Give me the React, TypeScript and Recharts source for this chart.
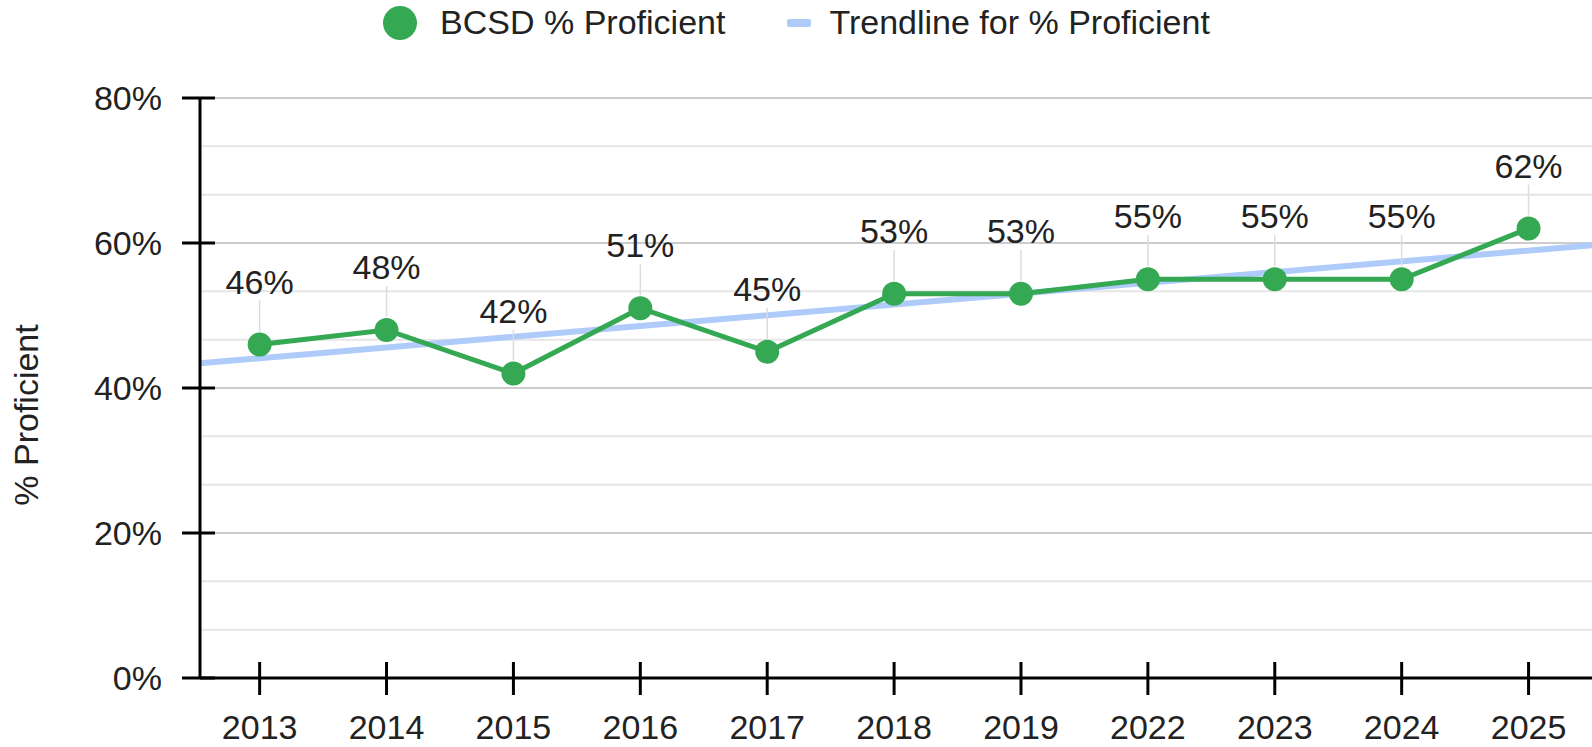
import React from 'react';
import { LineChart, Line, XAxis, YAxis, ReferenceLine, Legend, LabelList } from 'recharts';

const years = ['2013', '2014', '2015', '2016', '2017', '2018', '2019', '2022', '2023', '2024', '2025'];
const proficient = [46, 48, 42, 51, 45, 53, 53, 55, 55, 55, 62];
// trendline read at the left and right plot edges
const trendX = [-0.47, 10.5];
const trendY = [43.4, 59.7];
const yTicks = [0, 20, 40, 60, 80];
const minorGrid = [1, 2, 4, 5, 7, 8, 10, 11].map((k) => (k * 20) / 3);
const majorGrid = [20, 40, 60, 80];

const GREEN = '#34a853';
const TREND = '#aecbfa';
const FONT = '"Liberation Sans", Arial, sans-serif';
const FS = 34;

const data = years.map((year, i) => ({ x: i, year, value: proficient[i] }));
const trendData = trendX.map((x, i) => ({ x, trend: trendY[i] }));

const YTick = (props: any) => {
  const { x, y, payload } = props;
  return (
    <g>
      <line x1={x - 18} x2={x + 15} y1={y} y2={y} stroke="#000" strokeWidth={3} />
      <text x={x - 38} y={y} dy="0.36em" textAnchor="end" fontSize={FS} fontFamily={FONT} fill="#222">
        {payload.value}%
      </text>
    </g>
  );
};

const XTick = (props: any) => {
  const { x, y, payload } = props;
  return (
    <g>
      <line x1={x} x2={x} y1={y - 16} y2={y + 17} stroke="#000" strokeWidth={3} />
      <text x={x} y={y + 61} textAnchor="middle" fontSize={FS} fontFamily={FONT} fill="#222">
        {years[payload.value]}
      </text>
    </g>
  );
};

const PointLabel = (props: any) => {
  const { x, y, value } = props;
  return (
    <g>
      <line x1={x} x2={x} y1={y - 13} y2={y - 44} stroke="#dcdcdc" strokeWidth={1.5} />
      <text x={x} y={y - 51} textAnchor="middle" fontSize={FS} fontFamily={FONT} fill="#222">
        {value}%
      </text>
    </g>
  );
};

const LegendContent = () => (
  <div style={{ display: 'flex', justifyContent: 'center', alignItems: 'center', fontFamily: FONT, fontSize: FS, color: '#222' }}>
    <svg width={36} height={36} style={{ marginRight: 22 }}>
      <circle cx={18} cy={18} r={17} fill={GREEN} />
    </svg>
    <span>BCSD % Proficient</span>
    <svg width={24} height={10} style={{ marginLeft: 62, marginRight: 18 }}>
      <rect x={0} y={1} width={24} height={8} rx={2} fill={TREND} />
    </svg>
    <span>Trendline for % Proficient</span>
  </div>
);

export default function App() {
  return (
    <div style={{ position: 'absolute', left: 0, top: 0, width: 1592, height: 747, background: '#fff' }}>
      <LineChart width={1592} height={747} data={data} margin={{ top: 98, right: 0, bottom: 0, left: 0 }}>
        {minorGrid.map((v) => (
          <ReferenceLine key={'m' + v} y={v} stroke="#e6e6e6" strokeWidth={2} />
        ))}
        {majorGrid.map((v) => (
          <ReferenceLine key={'M' + v} y={v} stroke="#cccccc" strokeWidth={2} />
        ))}
        <XAxis
          dataKey="x"
          type="number"
          domain={[trendX[0], trendX[1]]}
          ticks={years.map((_, i) => i)}
          allowDataOverflow
          height={69}
          tickSize={0}
          tickMargin={0}
          tickLine={false}
          axisLine={{ stroke: '#000', strokeWidth: 3 }}
          tick={<XTick />}
        />
        <YAxis
          type="number"
          domain={[0, 80]}
          ticks={yTicks}
          width={200}
          tickSize={0}
          tickMargin={0}
          tickLine={false}
          axisLine={{ stroke: '#000', strokeWidth: 3 }}
          tick={<YTick />}
          label={{
            value: '% Proficient',
            angle: -90,
            position: 'insideLeft',
            offset: 0,
            dx: 26,
            dy: 27,
            style: { fontSize: FS, fontFamily: FONT, fill: '#222', textAnchor: 'middle' },
          }}
        />
        <Legend
          verticalAlign="middle"
          align="center"
          wrapperStyle={{ top: 3, left: 0, width: 1592 }}
          content={<LegendContent />}
        />
        <Line
          data={trendData}
          dataKey="trend"
          stroke={TREND}
          strokeWidth={6}
          dot={false}
          activeDot={false}
          legendType="none"
          isAnimationActive={false}
        />
        <Line
          dataKey="value"
          stroke={GREEN}
          strokeWidth={5}
          dot={{ r: 12, fill: GREEN, stroke: GREEN, strokeWidth: 0 }}
          activeDot={false}
          isAnimationActive={false}
        >
          <LabelList dataKey="value" content={<PointLabel />} />
        </Line>
      </LineChart>
    </div>
  );
}
